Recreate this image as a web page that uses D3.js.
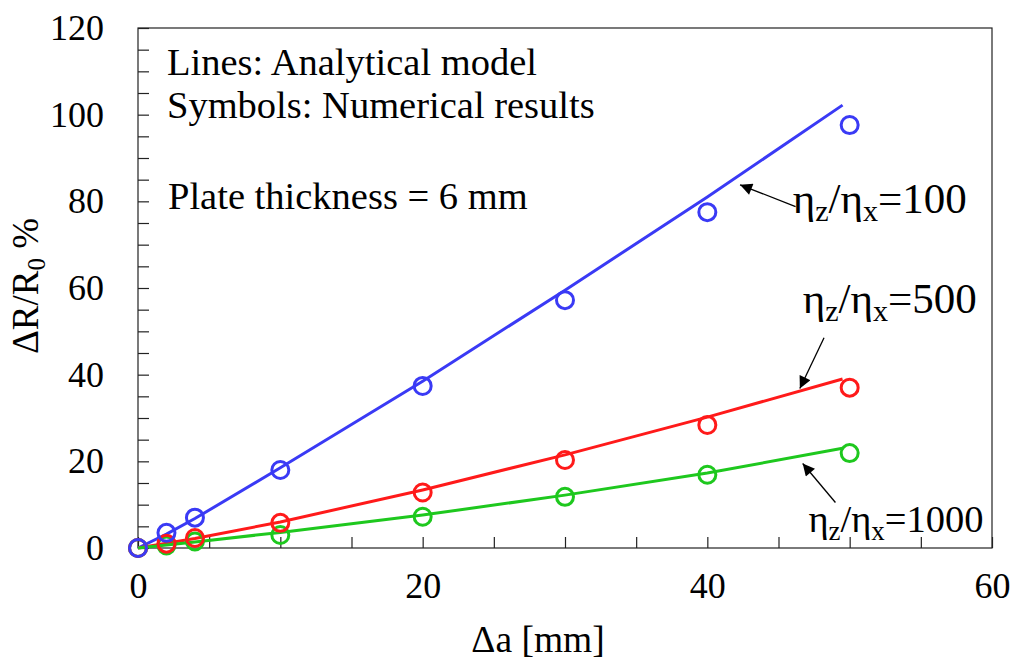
<!DOCTYPE html>
<html>
<head>
<meta charset="utf-8">
<script src="https://cdn.jsdelivr.net/npm/d3@7"></script>
<style>
  body { margin: 0; background: #fff; }
  svg { font-family: "Liberation Serif", "Times New Roman", serif; }
</style>
</head>
<body>
<div class="js-chart"></div>
<script>
// numerical results (symbols)
var symbolX = [0, 2, 4, 10, 20, 30, 40, 50];
var symbols100 = [0, 3.5, 7, 18, 37.4, 57.2, 77.5, 97.6];
var symbols500 = [0, 1, 2.3, 5.8, 12.8, 20.3, 28.4, 37];
var symbols1000 = [0, 0.6, 1.5, 3.0, 7.2, 11.8, 16.9, 21.9];

// analytical model (lines)
var lineX = [0, 2, 4, 10, 20, 30, 40, 49.5];
var line100 = [0, 3.2, 6.8, 18.5, 38.5, 59.5, 81, 102.2];
var line500 = [0, 1.1, 2.2, 6.0, 13.4, 21.5, 30.2, 39];
var line1000 = [0, 0.7, 1.4, 3.6, 7.6, 12.2, 17.3, 23];

var xTicks = [0, 20, 40, 60];
var yTicks = [0, 20, 40, 60, 80, 100, 120];

(function() {
  var width = 1015
    , height = 660
    , margin = { top: 28, right: 23, bottom: 112, left: 138 }
    , innerW = width - margin.left - margin.right
    , innerH = height - margin.top - margin.bottom
    , x = d3.scaleLinear().domain([0, 60]).range([0, innerW])
    , y = d3.scaleLinear().domain([0, 120]).range([innerH, 0])
    ;

  var series = [
    { color: '#3a3af5', sym: symbols100, line: line100 },
    { color: '#ff1a1a', sym: symbols500, line: line500 },
    { color: '#1ec81e', sym: symbols1000, line: line1000 }
  ];

  var svg = d3.select('.js-chart')
        .append('svg')
          .attr('width', width)
          .attr('height', height)
    , g = svg.append('g')
        .attr('transform', 'translate(' + margin.left + ',' + margin.top + ')')
    ;

  // frame
  g.append('rect')
    .attr('width', innerW)
    .attr('height', innerH)
    .attr('fill', 'none')
    .attr('stroke', '#222')
    .attr('stroke-width', 1.2);

  var xAxis = d3.axisBottom(x)
    .tickValues(d3.range(0, 61, 5))
    .tickSizeInner(-11)
    .tickSizeOuter(0)
    .tickPadding(24)
    .tickFormat(d => xTicks.indexOf(d) >= 0 ? d : '');

  var yAxis = d3.axisLeft(y)
    .tickValues(d3.range(0, 121, 5))
    .tickSizeInner(-11)
    .tickSizeOuter(0)
    .tickPadding(34)
    .tickFormat(d => yTicks.indexOf(d) >= 0 ? d : '');

  [g.append('g').attr('transform', 'translate(0,' + innerH + ')').call(xAxis),
   g.append('g').call(yAxis)].forEach(function(ax) {
    ax.select('.domain').remove();
    ax.selectAll('line').attr('stroke', '#222').attr('stroke-width', 1.2);
    ax.selectAll('text')
      .attr('font-family', '"Liberation Serif", serif')
      .attr('font-size', 36)
      .attr('fill', '#000');
  });

  // lines
  var line = d3.line()
    .x((d, i) => x(lineX[i]))
    .y(d => y(d));

  g.append('g').selectAll('path')
    .data(series)
    .enter()
    .append('path')
      .attr('d', d => line(d.line))
      .attr('fill', 'none')
      .attr('stroke', d => d.color)
      .attr('stroke-width', 3);

  // symbols
  series.slice().reverse().forEach(function(s) {
    g.append('g').selectAll('circle')
      .data(s.sym)
      .enter()
      .append('circle')
        .attr('cx', (d, i) => x(symbolX[i]))
        .attr('cy', d => y(d))
        .attr('r', 8.5)
        .attr('fill', 'none')
        .attr('stroke', s.color)
        .attr('stroke-width', 3);
  });

  // notes
  var notes = g.append('g')
    .attr('font-size', 38.5)
    .attr('fill', '#000');
  notes.append('text').attr('x', 29).attr('y', 47).text('Lines: Analytical model');
  notes.append('text').attr('x', 29).attr('y', 90).text('Symbols: Numerical results');
  notes.append('text').attr('x', 30).attr('y', 181).text('Plate thickness = 6 mm');

  // ratio labels with arrows
  svg.append('defs').append('marker')
    .attr('id', 'arrow')
    .attr('viewBox', '0 0 10 10')
    .attr('refX', 10)
    .attr('refY', 5)
    .attr('markerWidth', 16)
    .attr('markerHeight', 12)
    .attr('markerUnits', 'userSpaceOnUse')
    .attr('orient', 'auto')
    .append('path')
      .attr('d', 'M0,0L10,5L0,10z')
      .attr('fill', '#000');

  var labels = [
    { value: '100', size: 43, lx: 46, ly: 77.3, ax0: 46.2, ay0: 78.8, ax1: 42.3, ay1: 83.8 },
    { value: '500', size: 43, lx: 46.7, ly: 54.3, ax0: 48.2, ay0: 48.5, ax1: 46.5, ay1: 36.8 },
    { value: '1000', size: 38.5, lx: 47.1, ly: 3.7, ax0: 49, ay0: 10.5, ax1: 46.7, ay1: 19.5 }
  ];

  labels.forEach(function(l) {
    g.append('line')
      .attr('x1', x(l.ax0)).attr('y1', y(l.ay0))
      .attr('x2', x(l.ax1)).attr('y2', y(l.ay1))
      .attr('stroke', '#000')
      .attr('stroke-width', 1.3)
      .attr('marker-end', 'url(#arrow)');

    var t = g.append('text')
      .attr('x', x(l.lx))
      .attr('y', y(l.ly))
      .attr('font-size', l.size)
      .attr('fill', '#000');
    t.append('tspan').text('η');
    t.append('tspan').attr('font-size', l.size * 0.7).attr('dy', 8).text('z');
    t.append('tspan').attr('dy', -8).text('/η');
    t.append('tspan').attr('font-size', l.size * 0.7).attr('dy', 8).text('x');
    t.append('tspan').attr('dy', -8).text('=' + l.value);
  });

  // axis titles
  svg.append('text')
    .attr('x', 538)
    .attr('y', 652)
    .attr('text-anchor', 'middle')
    .attr('font-size', 37.5)
    .text('Δa [mm]');

  var yt = svg.append('text')
    .attr('transform', 'translate(38,' + (margin.top + innerH / 2 - 2) + ') rotate(-90)')
    .attr('text-anchor', 'middle')
    .attr('font-size', 37);
  yt.append('tspan').text('ΔR/R');
  yt.append('tspan').attr('font-size', 25).attr('dy', 7).text('0');
  yt.append('tspan').attr('dy', -7).text(' %');
})();
</script>
</body>
</html>
